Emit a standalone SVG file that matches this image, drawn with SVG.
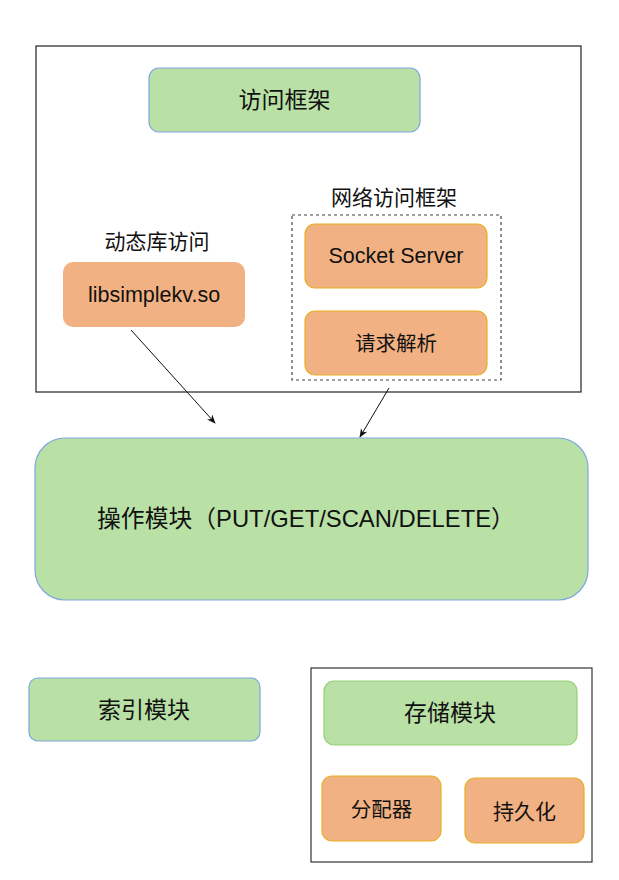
<svg xmlns="http://www.w3.org/2000/svg" width="619" height="880" viewBox="0 0 619 880">
<defs>
<style>
.t{font-family:"Liberation Sans","Noto Sans CJK SC",sans-serif;fill:#111;text-anchor:middle;dominant-baseline:central}
.g{fill:#b9e0a5;stroke:#7ea6e0;stroke-width:1.2}
.gg{fill:#b9e0a5;stroke:#97d077;stroke-width:1.2}
.o{fill:#f2b183;stroke:#e6b021;stroke-width:1.2}
.c{stroke:#111;stroke-width:1;fill:none}
</style>
<marker id="ah" viewBox="0 0 10 10" refX="9" refY="5" markerWidth="9" markerHeight="9" orient="auto"><path d="M0,1 L10,5 L0,9 L3,5 Z" fill="#111"/></marker>
</defs>
<rect width="619" height="880" fill="#fff"/>
<g id="access-container"><rect x="36" y="46" width="545" height="346" fill="none" stroke="#222" stroke-width="1.2"/></g>
<g id="access-framework"><rect class="g" x="149" y="68" width="271" height="64" rx="10"/><text class="t" x="284.5" y="100" font-size="23">访问框架</text></g>
<g id="net-framework"><text class="t" x="394" y="197" font-size="21">网络访问框架</text><rect x="292" y="215" width="209" height="165" fill="none" stroke="#444" stroke-width="1.2" stroke-dasharray="3,3"/></g>
<g id="socket-server"><rect class="o" x="305" y="224" width="182" height="64" rx="10"/><text class="t" x="396" y="256" font-size="21.5">Socket Server</text></g>
<g id="request-parse"><rect class="o" x="305" y="311" width="182" height="64" rx="10"/><text class="t" x="396" y="343" font-size="20.5">请求解析</text></g>
<g id="dynamic-lib"><text class="t" x="157" y="241" font-size="21">动态库访问</text><rect x="63" y="262" width="182" height="65" rx="10" fill="#f2b183"/><text class="t" x="154" y="295" font-size="21.5">libsimplekv.so</text></g>
<g id="connectors">
<line class="c" x1="131" y1="330" x2="215" y2="423" marker-end="url(#ah)"/>
<line class="c" x1="389" y1="388" x2="360" y2="437" marker-end="url(#ah)"/>
</g>
<g id="ops"><rect class="g" x="35" y="438" width="553" height="162" rx="30"/><text class="t" x="306" y="518" font-size="23.8">操作模块（PUT/GET/SCAN/DELETE）</text></g>
<g id="index"><rect class="g" x="29" y="678" width="231" height="63" rx="9"/><text class="t" x="144" y="710" font-size="23">索引模块</text></g>
<g id="storage-container"><rect x="311" y="668" width="281" height="194" fill="none" stroke="#333" stroke-width="1.2"/></g>
<g id="storage"><rect class="gg" x="324" y="681" width="253" height="64" rx="10"/><text class="t" x="450" y="713" font-size="23">存储模块</text></g>
<g id="allocator"><rect class="o" x="322" y="776" width="119" height="65" rx="10"/><text class="t" x="381.5" y="809" font-size="20.5">分配器</text></g>
<g id="persist"><rect class="o" x="465" y="778" width="119" height="65" rx="10"/><text class="t" x="524.5" y="811" font-size="21">持久化</text></g>
</svg>
